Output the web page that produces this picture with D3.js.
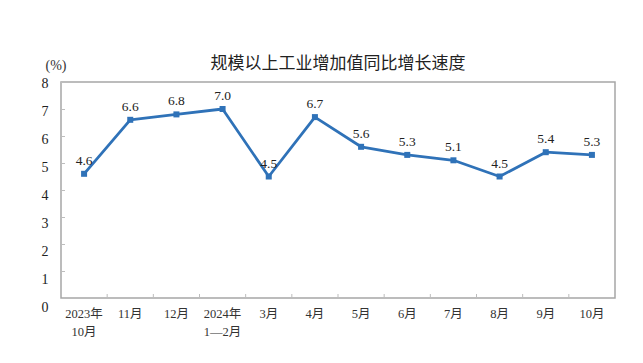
<!DOCTYPE html>
<html>
<head>
<meta charset="utf-8">
<script src="https://cdn.jsdelivr.net/npm/d3@7"></script>
<style>
  body { margin: 0; background: #fff; }
  svg { display: block; }
</style>
</head>
<body>
<div id="chart"></div>
<script>
// data
var months = ['2023年\n10月', '11月', '12月', '2024年\n1—2月', '3月', '4月', '5月', '6月', '7月', '8月', '9月', '10月'];
var growth = [4.6, 6.6, 6.8, 7.0, 4.5, 6.7, 5.6, 5.3, 5.1, 4.5, 5.4, 5.3];
var yTicks = [0, 1, 2, 3, 4, 5, 6, 7, 8];
var title = '规模以上工业增加值同比增长速度';
var unit = '(%)';

var W = 643, H = 363;
var margin = { top: 82, right: 28, bottom: 65, left: 61 };
var width = W - margin.left - margin.right;
var height = H - margin.top - margin.bottom;
var serif = '"Liberation Serif", "Times New Roman", "Noto Sans CJK SC", serif';
var lineColor = '#2f72b8';

var svg = d3.select('#chart').append('svg')
  .attr('width', W)
  .attr('height', H);

svg.append('text')
  .attr('x', 338)
  .attr('y', 69)
  .attr('text-anchor', 'middle')
  .style('font-family', '"Noto Sans CJK SC", sans-serif')
  .style('font-size', '17px')
  .attr('fill', '#222')
  .text(title);

svg.append('text')
  .attr('x', 56)
  .attr('y', 70)
  .attr('text-anchor', 'middle')
  .style('font-family', serif)
  .style('font-size', '14px')
  .attr('fill', '#333')
  .text(unit);

var g = svg.append('g')
  .attr('transform', 'translate(' + margin.left + ',' + margin.top + ')');

var x = d3.scaleBand().domain(months).range([0, width]);
var y = d3.scaleLinear().domain([0, 8]).range([height, 0]);
// the tick labels in the original drift slightly below their ticks
var yLab = d3.scaleLinear().domain([0, 8]).range([height + 9, 1]);

// frame
g.append('rect')
  .attr('width', width)
  .attr('height', height)
  .attr('fill', 'none')
  .attr('stroke', '#a6a6a6')
  .attr('stroke-width', 1.5);

// y ticks
var ya = g.append('g').call(d3.axisLeft(y).tickValues(yTicks).tickSize(-4).tickFormat(''));
ya.select('.domain').remove();
ya.selectAll('line').attr('stroke', '#bdbdbd');

g.selectAll('.ylabel').data(yTicks).enter().append('text')
  .attr('x', -16)
  .attr('y', function(d) { return yLab(d); })
  .attr('dy', '0.35em')
  .attr('text-anchor', 'middle')
  .style('font-family', serif)
  .style('font-size', '14px')
  .attr('fill', '#222')
  .text(function(d) { return d; });

// x axis ticks at band edges
var edges = months.slice(1).map(function(m) { return x(m); });
g.selectAll('.xtick').data(edges).enter().append('line')
  .attr('x1', function(d) { return d; })
  .attr('x2', function(d) { return d; })
  .attr('y1', height)
  .attr('y2', height - 4)
  .attr('stroke', '#bdbdbd');

var xl = g.selectAll('.xlabel').data(months).enter().append('text')
  .attr('text-anchor', 'middle')
  .attr('transform', function(d) { return 'translate(' + (x(d) + x.bandwidth() / 2) + ',' + (height + 20) + ')'; })
  .style('font-family', serif)
  .style('font-size', '12.5px')
  .attr('fill', '#333');
xl.selectAll('tspan').data(function(d) { return d.split('\n'); }).enter().append('tspan')
  .attr('x', 0)
  .attr('dy', function(d, i) { return i === 0 ? 0 : 18; })
  .text(function(d) { return d; });

// line
var line = d3.line()
  .x(function(d, i) { return x(months[i]) + x.bandwidth() / 2; })
  .y(function(d) { return y(d); });

g.append('path')
  .datum(growth)
  .attr('d', line)
  .attr('fill', 'none')
  .attr('stroke', lineColor)
  .attr('stroke-width', 2.8)
  .attr('stroke-linejoin', 'round');

g.selectAll('.pt').data(growth).enter().append('rect')
  .attr('x', function(d, i) { return x(months[i]) + x.bandwidth() / 2 - 3; })
  .attr('y', function(d) { return y(d) - 3; })
  .attr('width', 6)
  .attr('height', 6)
  .attr('fill', lineColor);

g.selectAll('.lbl').data(growth).enter().append('text')
  .attr('x', function(d, i) { return x(months[i]) + x.bandwidth() / 2; })
  .attr('y', function(d) { return y(d) - 9; })
  .attr('text-anchor', 'middle')
  .style('font-family', serif)
  .style('font-size', '13.5px')
  .attr('fill', '#222')
  .text(function(d) { return d.toFixed(1); });
</script>
</body>
</html>
